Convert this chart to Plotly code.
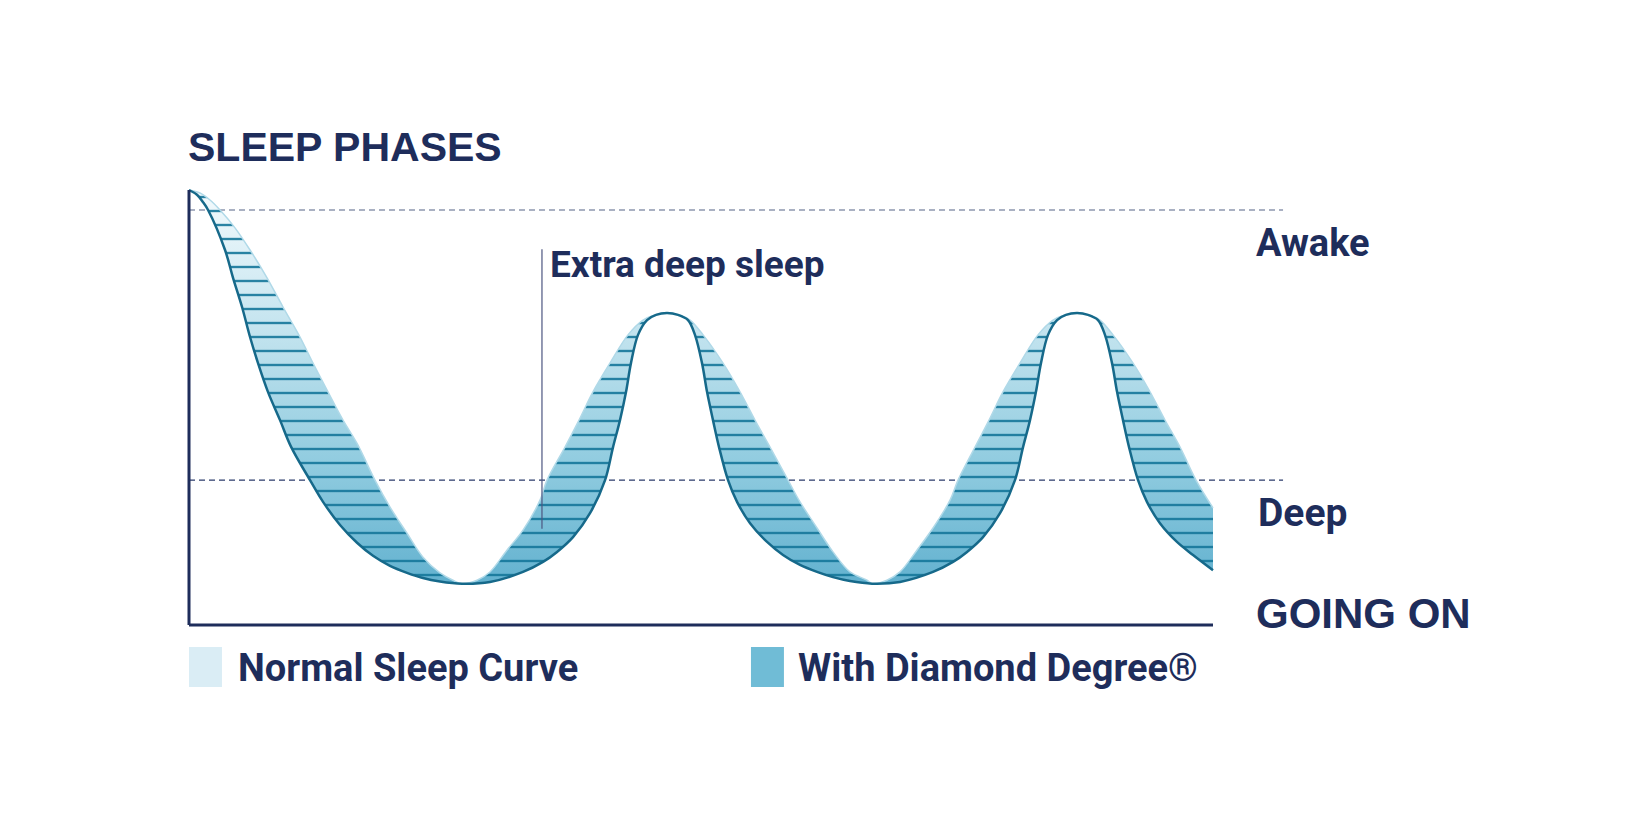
import plotly.graph_objects as go

# ---------------- data (x: share of the night, y: sleep-phase depth scale) ----------------
normal_x = [0, 1.07, 2.05, 3.03, 4.49, 5.96, 7.62, 9.18, 10.84, 12.11, 13.57, 15.04, 16.45,
            18.16, 19.63, 21.29, 22.85, 24.51, 25.78, 26.66,
            28.13, 29.39, 31.05, 32.62, 34.28, 34.96, 36.72, 38.09, 39.45, 41.11, 42.87, 44.34,
            45.51, 46.68, 47.85, 48.93, 50.20, 52.15, 53.81, 55.27, 56.74, 58.50, 59.67, 61.33,
            62.89, 64.55, 66.21, 66.70,
            68.16, 69.43, 71.09, 72.66, 74.32, 75.10, 76.76, 78.13, 79.49, 81.15, 82.91, 84.38,
            85.55, 86.72, 87.89, 88.96, 90.23, 92.19, 93.85, 95.31, 96.78, 98.34, 100]
normal_y = [100, 99.3, 97.7, 95.4, 91.3, 86.2, 79.8, 73.1, 66.2, 60.2, 53.6, 47.1, 41.6,
            33.3, 27.1, 21.1, 15.6, 12.0, 10.3, 9.5,
            10.3, 12.2, 17.2, 21.8, 28.7, 33.3, 40.9, 47.1, 53.6, 60.2, 66.7, 70.1,
            71.3, 71.7, 71.3, 70.1, 66.7, 60.2, 53.6, 47.1, 40.9, 33.3, 28.3, 22.3,
            16.8, 12.2, 10.3, 9.5,
            10.3, 12.2, 17.2, 22.3, 28.7, 33.3, 40.9, 47.1, 53.6, 60.2, 66.7, 70.1,
            71.3, 71.7, 71.3, 70.1, 66.7, 60.2, 53.6, 47.1, 40.9, 33.3, 26.9]

diamond_x = [0, 0.78, 1.37, 1.86, 3.52, 4.30, 5.18, 5.96, 6.74, 7.71, 8.89, 9.96, 11.82,
             13.09, 14.75, 16.41, 17.97, 19.63, 21.29, 22.85, 24.51, 26.66,
             29.39, 32.62, 34.57, 35.94, 37.50, 39.16, 40.63, 41.41, 42.09, 42.68, 43.16, 43.85,
             44.73, 45.61, 46.68, 47.75, 48.73, 49.41, 50.10, 50.59, 51.17, 51.76, 52.64,
             53.52, 54.79, 56.45, 58.01, 59.67, 61.33, 62.89, 64.55, 66.70,
             69.43, 72.66, 74.61, 75.98, 77.54, 79.20, 80.66, 81.45, 82.13, 82.71, 83.20, 83.89,
             84.77, 85.64, 86.72, 87.79, 88.77, 89.45, 90.14, 90.63, 91.21, 91.80, 92.68,
             93.55, 94.82, 96.48, 98.05, 100]
diamond_y = [100, 98.9, 97.2, 95.4, 86.2, 79.8, 73.1, 66.2, 60.2, 53.6, 47.1, 41.0, 33.3,
             28.3, 23.0, 18.9, 15.9, 13.6, 12.0, 10.8, 10.0, 9.5,
             9.9, 12.2, 14.5, 16.8, 20.2, 25.7, 33.3, 40.9, 47.1, 53.6, 60.2, 66.7,
             70.1, 71.3, 71.7, 71.3, 70.1, 66.7, 60.2, 53.6, 47.1, 40.9, 33.3,
             28.3, 23.4, 19.1, 16.1, 13.8, 12.2, 11.0, 10.1, 9.5,
             9.9, 12.2, 14.5, 16.8, 20.2, 25.7, 33.3, 40.9, 47.1, 53.6, 60.2, 66.7,
             70.1, 71.3, 71.7, 71.3, 70.1, 66.7, 60.2, 53.6, 47.1, 40.9, 33.3,
             28.3, 23.4, 19.1, 16.1, 12.6]

phase_names = ["Awake", "Deep"]
phase_levels = [95.4, 33.3]
extra_deep_x = 34.47
extra_deep_span = [22.1, 86.4]
legend_names = ["Normal Sleep Curve", "With Diamond Degree®"]
legend_colors = ["#daedf5", "#70bcd6"]

# ---------------- styling ----------------
NAVY = "#1e2d5b"
BOLD = "Liberation Sans, Arial, sans-serif"
NARROW = "Roboto, Liberation Sans, sans-serif"
PAGE_W, PAGE_H, BODY = 1643, 839, 8
W, H = PAGE_W - 2 * BODY, PAGE_H - 2 * BODY
X_END = 100
X_DASH_END = 106.84
SPL = dict(shape="spline", smoothing=1.0)

fig = go.Figure()

# gradient band between the two curves
fig.add_trace(go.Scatter(x=diamond_x, y=diamond_y, mode="lines",
                         line=dict(width=0, **SPL), hoverinfo="skip"))
fig.add_trace(go.Scatter(
    x=normal_x, y=normal_y, mode="lines", fill="tonexty",
    line=dict(width=0, **SPL),
    fillgradient=dict(type="vertical", start=9, stop=100,
                      colorscale=[[0, "#62b1cf"], [0.3, "#8fcbdf"], [0.65, "#c4e4ef"], [1, "#f3fafd"]]),
    hoverinfo="skip"))

# horizontal stripes on the band
fig.add_trace(go.Scatter(x=diamond_x, y=diamond_y, mode="lines",
                         line=dict(width=0, **SPL), hoverinfo="skip"))
fig.add_trace(go.Scatter(
    x=normal_x, y=normal_y, mode="lines", fill="tonexty", fillcolor="rgba(0,0,0,0)",
    line=dict(width=0, **SPL),
    fillpattern=dict(shape="-", size=14, solidity=0.17, fgcolor="#15779a", fgopacity=0.9,
                     bgcolor="rgba(0,0,0,0)", fillmode="overlay"),
    hoverinfo="skip"))

fig.add_trace(go.Scatter(x=normal_x, y=normal_y, mode="lines",
                         line=dict(color="#b0d9e8", width=1.5, **SPL), hoverinfo="skip"))
fig.add_trace(go.Scatter(x=diamond_x, y=diamond_y, mode="lines",
                         line=dict(color="#16698a", width=2.5, **SPL), hoverinfo="skip"))

# phase reference lines
dash_colors = ["#8d97ae", "#2a3a6b"]
for lvl, col in zip(phase_levels, dash_colors):
    fig.add_shape(type="line", x0=0, x1=X_DASH_END, y0=lvl, y1=lvl,
                  line=dict(color=col, width=1.4, dash="6px,4px"), layer="below")

# axes
fig.add_shape(type="line", x0=0, x1=X_END, y0=0, y1=0, line=dict(color=NAVY, width=3))
fig.add_shape(type="line", x0=0, x1=0, y0=0, y1=100, line=dict(color=NAVY, width=3))

# extra deep sleep marker
fig.add_shape(type="line", x0=extra_deep_x, x1=extra_deep_x,
              y0=extra_deep_span[0], y1=extra_deep_span[1],
              line=dict(color="#4d5680", width=1.2))

# legend swatches
sw_x = [0, 54.88]
for x0, col in zip(sw_x, legend_colors):
    fig.add_shape(type="rect", x0=x0, x1=x0 + 3.22, y0=-14.25, y1=-5.06,
                  line=dict(width=0), fillcolor=col)


def label(text, x, y, size, family=NARROW):
    fig.add_annotation(text=text, x=x, y=y, xref="x", yref="y", showarrow=False,
                       xanchor="left", yanchor="middle",
                       font=dict(family=family, size=size, color=NAVY, weight="bold"))


label("SLEEP PHASES", -0.3, 109.8, 41, BOLD)
label(phase_names[0], 104.0, 87.8, 38)
label(phase_names[1], 104.2, 25.7, 39)
label("GOING ON", 104.0, 2.6, 42, BOLD)
label("Extra deep sleep", 35.1, 82.9, 37)
label(legend_names[0], 4.6, -9.9, 38)
label(legend_names[1], 59.3, -9.9, 38)

# page mapping: px = 189 + x*10.24 ; py = 625 - y*4.35 (page pixels, body margin removed below)
L, R, T, B = 180, 1480, 120, 700
x_rng = [(L - 189) / 10.24, (R - 189) / 10.24]
y_rng = [(625 - B) / 4.35, (625 - T) / 4.35]

fig.update_layout(
    width=W, height=H, showlegend=False,
    margin=dict(l=L - BODY, r=(PAGE_W - BODY) - R, t=T - BODY, b=(PAGE_H - BODY) - B, pad=0),
    paper_bgcolor="white", plot_bgcolor="white",
    xaxis=dict(range=x_rng, visible=False, fixedrange=True),
    yaxis=dict(range=y_rng, visible=False, fixedrange=True),
)

fig.write_html("out.html")
